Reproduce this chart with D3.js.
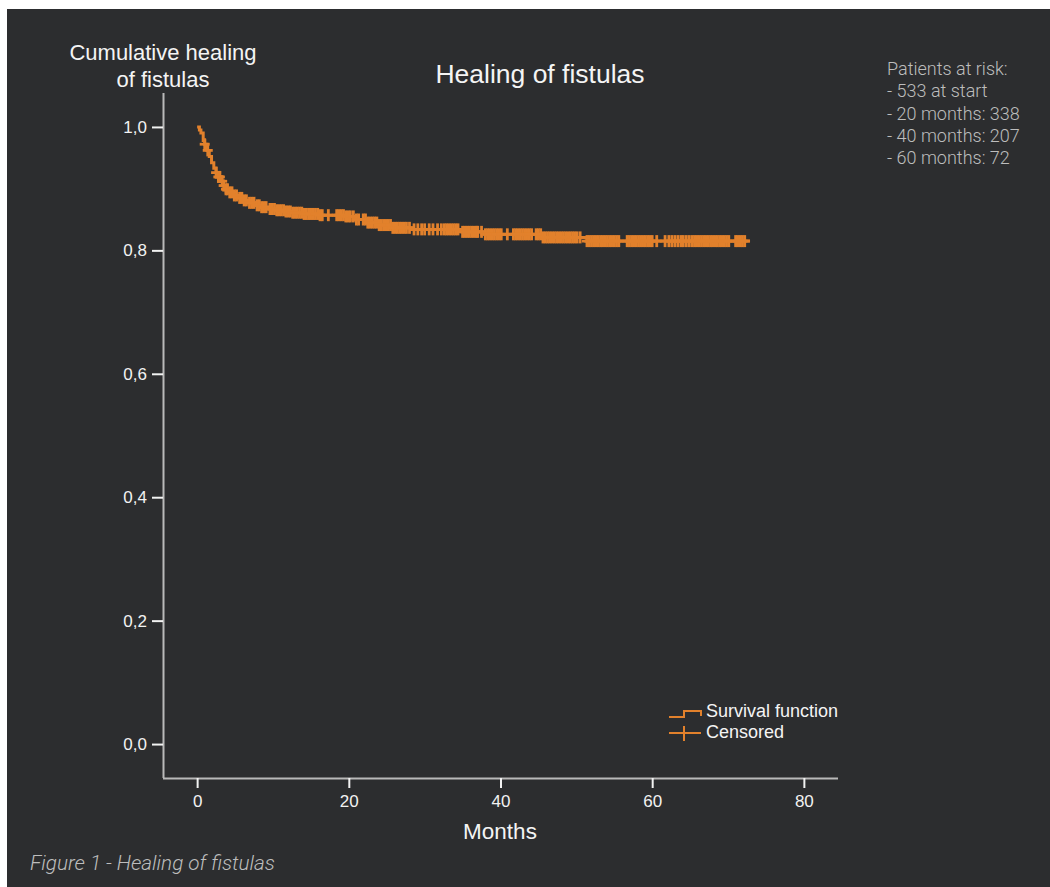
<!DOCTYPE html>
<html>
<head>
<meta charset="utf-8">
<script src="https://cdn.jsdelivr.net/npm/d3@7"></script>
<style>
  html, body { margin: 0; padding: 0; background: #ffffff; }
  svg { display: block; }
</style>
</head>
<body>
<svg id="chart" width="1050" height="887"></svg>
<script>
// Kaplan-Meier step curve (months, cumulative proportion)
const stepTimes = [0, 0.3, 0.5, 0.8, 1.0, 1.3, 1.6, 1.9, 2.2, 2.5, 2.8, 3.1, 3.4, 3.8, 4.2, 4.7,
  5.3, 6.0, 6.8, 7.6, 8.5, 9.5, 10.5, 11.5, 12.5, 14, 16, 19.5, 21, 22.5, 24, 25.8, 28.3,
  35, 38, 45.6, 51.4];
const stepSurv = [1.0, 0.995, 0.99, 0.978, 0.972, 0.962, 0.952, 0.942, 0.933, 0.926, 0.919,
  0.912, 0.905, 0.899, 0.894, 0.889, 0.885, 0.881, 0.877, 0.873, 0.870, 0.867, 0.865, 0.863,
  0.861, 0.859, 0.857, 0.855, 0.850, 0.845, 0.841, 0.8365, 0.834, 0.830, 0.826, 0.821, 0.815];
const lastTime = 72.9;

// censored observations (months)
const censorTimes = [
  1.0, 1.4,
  2.5, 2.8, 3.0, 3.3, 3.5, 3.8, 4.0, 4.3, 4.6, 4.9, 5.2,
  5.6, 5.9, 6.2, 6.5, 6.9, 7.2, 7.5, 7.9, 8.2, 8.5, 8.8, 9.1,
  9.6, 9.9, 10.2, 10.5, 10.8, 11.1, 11.4, 11.7, 12.0, 12.3, 12.6, 12.9, 13.2, 13.5, 13.8,
  14.1, 14.4, 14.7, 15.0, 15.3, 15.6, 15.9, 16.2, 16.5,
  17.3, 18.4, 18.7, 19.0, 19.3, 19.6, 19.9, 20.2, 20.6,
  21.0, 21.3, 21.9, 22.2, 22.5, 22.8, 23.1, 23.4, 23.7, 24.0, 24.3, 24.6, 24.9, 25.2, 25.5,
  25.8, 26.1, 26.4, 26.7, 27.0, 27.3, 27.6, 28.0,
  28.6, 29.1, 29.6, 30.0, 30.6, 31.1, 31.7, 32.2,
  32.6, 32.9, 33.2, 33.5, 33.8, 34.1, 34.4,
  35.0, 35.3, 35.6, 35.9, 36.2, 36.5, 36.8, 37.0,
  37.5,
  38.0, 38.3, 38.6, 38.9, 39.2, 39.5, 39.8, 40.1,
  40.9, 41.7,
  42.0, 42.3, 42.6, 42.9, 43.2, 43.5, 43.8, 44.1,
  44.7, 45.0, 45.3, 45.6, 45.9, 46.2, 46.5, 46.8, 47.1, 47.4, 47.7, 48.0, 48.3, 48.6, 48.9,
  49.2, 49.5, 49.8, 50.1,
  50.5,
  51.4, 51.7, 52.0, 52.3, 52.6, 52.9, 53.2, 53.5, 53.8, 54.1, 54.4, 54.7, 55.0, 55.3, 55.6,
  56.7, 57.0, 57.3, 57.6, 57.9, 58.2, 58.5, 58.8, 59.1, 59.4, 59.7, 60.0,
  60.6,
  61.7, 62.2, 62.6, 63.0, 63.4, 63.8,
  64.1, 64.5, 64.9, 65.3,
  65.6, 65.9, 66.2, 66.5, 66.8, 67.1, 67.4, 67.7, 68.0, 68.3, 68.6, 68.9, 69.2, 69.5, 69.8, 70.1,
  71.0, 71.3, 71.6, 71.9, 72.2
];

const xTicks = [0, 20, 40, 60, 80];
const yTicks = [0, 0.2, 0.4, 0.6, 0.8, 1.0];
const riskLines = ['Patients at risk:', '- 533 at start', '- 20 months: 338', '- 40 months: 207', '- 60 months: 72'];
const legendItems = ['Survival function', 'Censored'];

const ORANGE = '#e2812c';
const BG = '#2c2d2f';
const FONT = '"Liberation Sans", Arial, sans-serif';

const svg = d3.select('#chart');

// dark panel (white margin top/left as in the reference)
svg.append('rect')
  .attr('x', 7).attr('y', 9)
  .attr('width', 1043).attr('height', 878)
  .attr('fill', BG);

const x = d3.scaleLinear().domain([-4.5, 84.5]).range([163, 838]);
const y = d3.scaleLinear().domain([-0.055, 1.055]).range([778, 93]);

// axes
const xAxis = svg.append('g')
  .attr('transform', `translate(0,${y.range()[0]})`)
  .call(d3.axisBottom(x).tickValues(xTicks).tickSize(10).tickPadding(7).tickFormat(d3.format('d')));
const yAxis = svg.append('g')
  .attr('transform', `translate(${x.range()[0]},0)`)
  .call(d3.axisLeft(y).tickValues(yTicks).tickSize(11).tickPadding(5)
    .tickFormat(d => d3.format('.1f')(d).replace('.', ',')));

[xAxis, yAxis].forEach(g => {
  g.select('.domain').attr('stroke', '#b9b9b9').attr('stroke-width', 2);
  g.selectAll('.tick line').attr('stroke', '#f2f2f2').attr('stroke-width', 2);
  g.selectAll('.tick text')
    .attr('fill', '#f2f2f2')
    .style('font-family', FONT)
    .style('font-size', '17px');
});
// D3 draws the domain with outer ticks; flatten it to a plain line
xAxis.select('.domain').attr('d', `M${x.range()[0]},0.5H${x.range()[1]}`);
yAxis.select('.domain').attr('d', `M0.5,${y.range()[0]}V${y.range()[1]}`);

// survival step line
const pts = stepTimes.map((t, i) => [t, stepSurv[i]]);
pts.push([lastTime, stepSurv[stepSurv.length - 1]]);
const line = d3.line()
  .x(d => x(d[0]))
  .y(d => y(d[1]))
  .curve(d3.curveStepAfter);

svg.append('path')
  .datum(pts)
  .attr('fill', 'none')
  .attr('stroke', ORANGE)
  .attr('stroke-width', 3)
  .attr('d', line);

// censored marks
const survAt = t => {
  const i = d3.bisectRight(stepTimes, t) - 1;
  return stepSurv[Math.max(0, i)];
};
const marks = svg.append('g')
  .attr('stroke', ORANGE)
  .attr('stroke-width', 2.8);
censorTimes.forEach(t => {
  const cx = x(t), cy = y(survAt(t));
  marks.append('line').attr('x1', cx).attr('x2', cx).attr('y1', cy - 6).attr('y2', cy + 6);
  marks.append('line').attr('x1', cx - 5).attr('x2', cx + 5).attr('y1', cy).attr('y2', cy);
});

// titles
svg.append('text')
  .attr('x', 540).attr('y', 83)
  .attr('text-anchor', 'middle')
  .attr('fill', '#f4f4f4')
  .style('font-family', FONT)
  .style('font-size', '26.5px')
  .text('Healing of fistulas');

svg.append('text')
  .attr('x', 163).attr('y', 60)
  .attr('text-anchor', 'middle')
  .attr('fill', '#f4f4f4')
  .style('font-family', FONT)
  .style('font-size', '22px')
  .selectAll('tspan')
  .data(['Cumulative healing', 'of fistulas'])
  .enter()
  .append('tspan')
  .attr('x', 163)
  .attr('dy', (d, i) => i === 0 ? 0 : 27)
  .text(d => d);

svg.append('text')
  .attr('x', 500).attr('y', 839)
  .attr('text-anchor', 'middle')
  .attr('fill', '#f4f4f4')
  .style('font-family', FONT)
  .style('font-size', '22.5px')
  .text('Months');

// patients at risk note
svg.append('g')
  .selectAll('text')
  .data(riskLines)
  .enter()
  .append('text')
  .attr('x', 887)
  .attr('y', (d, i) => 75 + i * 22.3)
  .attr('fill', '#bdbdbd')
  .style('font-family', 'Roboto, ' + FONT)
  .style('font-weight', 300)
  .style('font-size', '18px')
  .text(d => d);

// figure caption
svg.append('text')
  .attr('x', 30).attr('y', 870)
  .attr('fill', '#bdbdbd')
  .style('font-family', 'Roboto, ' + FONT)
  .style('font-weight', 300)
  .style('font-style', 'italic')
  .style('font-size', '20.7px')
  .text('Figure 1 - Healing of fistulas');

// legend
const legend = svg.append('g').attr('transform', 'translate(669,0)');
legend.append('path')
  .attr('d', 'M0,717H15V711H32V716')
  .attr('fill', 'none')
  .attr('stroke', ORANGE)
  .attr('stroke-width', 2);
legend.append('path')
  .attr('d', 'M0,733H32M15,726V741')
  .attr('fill', 'none')
  .attr('stroke', ORANGE)
  .attr('stroke-width', 2);
legend.selectAll('text')
  .data(legendItems)
  .enter()
  .append('text')
  .attr('x', 37)
  .attr('y', (d, i) => 717 + i * 21)
  .attr('fill', '#f4f4f4')
  .style('font-family', FONT)
  .style('font-size', '18px')
  .text(d => d);
</script>
</body>
</html>
